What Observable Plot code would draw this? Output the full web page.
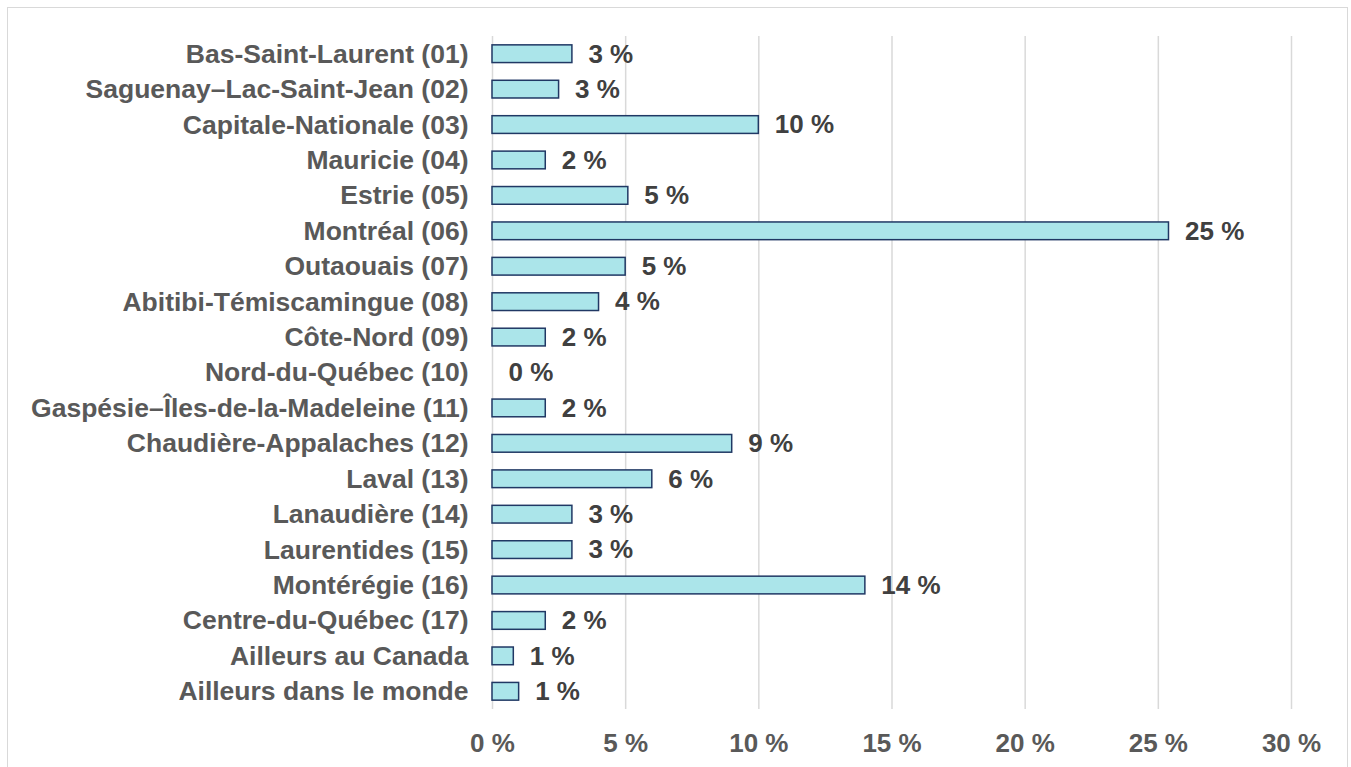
<!DOCTYPE html>
<html>
<head>
<meta charset="utf-8">
<script src="https://cdn.jsdelivr.net/npm/d3@7"></script>
<script src="https://cdn.jsdelivr.net/npm/@observablehq/plot@0.6"></script>
<style>
  html, body { margin: 0; padding: 0; background: #ffffff; overflow: hidden; }
  #wrap { position: relative; width: 1351px; height: 767px; }
  #border { position: absolute; left: 7px; top: 7px; width: 1341px; height: 820px; border: 1.5px solid #d9d9d9; box-sizing: border-box; pointer-events: none; }
  #chart { position: absolute; left: 0; top: 0; }
</style>
</head>
<body>
<div id="wrap"><div id="chart"></div><div id="border"></div></div>
<script>
const regions = [
  "Bas-Saint-Laurent (01)",
  "Saguenay–Lac-Saint-Jean (02)",
  "Capitale-Nationale (03)",
  "Mauricie (04)",
  "Estrie (05)",
  "Montréal (06)",
  "Outaouais (07)",
  "Abitibi-Témiscamingue (08)",
  "Côte-Nord (09)",
  "Nord-du-Québec (10)",
  "Gaspésie–Îles-de-la-Madeleine (11)",
  "Chaudière-Appalaches (12)",
  "Laval (13)",
  "Lanaudière (14)",
  "Laurentides (15)",
  "Montérégie (16)",
  "Centre-du-Québec (17)",
  "Ailleurs au Canada",
  "Ailleurs dans le monde"
];
const values = [3.0, 2.5, 10.0, 2.0, 5.1, 25.4, 5.0, 4.0, 2.0, 0.0, 2.0, 9.0, 6.0, 3.0, 3.0, 14.0, 2.0, 0.8, 1.0];
const valueLabels = ["3 %", "3 %", "10 %", "2 %", "5 %", "25 %", "5 %", "4 %", "2 %", "0 %", "2 %", "9 %", "6 %", "3 %", "3 %", "14 %", "2 %", "1 %", "1 %"];
const xTicks = [0, 5, 10, 15, 20, 25, 30];
const xTickLabels = ["0 %", "5 %", "10 %", "15 %", "20 %", "25 %", "30 %"];

const data = regions.map((r, i) => ({region: r, value: values[i], label: valueLabels[i]}));

const chart = Plot.plot({
  width: 1351,
  height: 767,
  marginLeft: 492,
  marginRight: 60,
  marginTop: 36,
  marginBottom: 58,
  style: {background: "transparent", fontFamily: "'Liberation Sans', Arial, sans-serif", fontWeight: "bold", fontSize: "26px"},
  x: {domain: [0, 30], ticks: xTicks, tickFormat: (d) => xTickLabels[xTicks.indexOf(d)], label: null},
  y: {domain: regions, paddingInner: 0.5, paddingOuter: 0.25, round: false, label: null},
  marks: [
    Plot.gridX(xTicks, {stroke: "#d9d9d9", strokeOpacity: 1, strokeWidth: 1.5}),
    Plot.barX(data, {x: "value", y: "region", fill: "#abe5ea", stroke: "#203864", strokeWidth: 1.5}),
    Plot.text(data, {x: "value", y: "region", text: "label", textAnchor: "start", dx: 16, fill: "#404040", fontSize: 26, fontWeight: "bold"}),
    Plot.axisY({tickSize: 0, tickPadding: 24, fill: "#595959", fontSize: 26.5, fontWeight: "bold", label: null}),
    Plot.axisX({tickSize: 0, tickPadding: 24, fill: "#595959", fontSize: 26, fontWeight: "bold", label: null, ticks: xTicks, tickFormat: (d) => xTickLabels[xTicks.indexOf(d)]})
  ]
});
document.getElementById("chart").appendChild(chart);
</script>
</body>
</html>
